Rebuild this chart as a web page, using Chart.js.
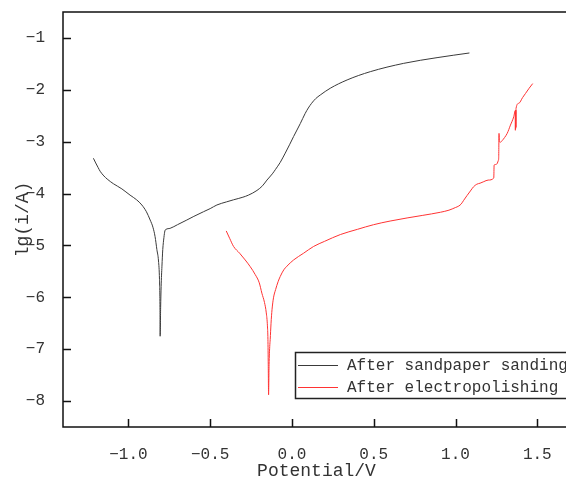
<!DOCTYPE html>
<html>
<head>
<meta charset="utf-8">
<script src="https://cdn.jsdelivr.net/npm/chart.js@4/dist/chart.umd.min.js"></script>
<style>
	html, body { margin: 0; padding: 0; background: #fff; overflow: hidden; }
	canvas { display: block; }
</style>
</head>
<body>
<canvas id="tafel-chart" width="572" height="482"></canvas>
<script>
// polarization curves
const sandLabel = 'After sandpaper sanding'
const sandX = [-1.214, -1.2, -1.185, -1.173, -1.15, -1.13, -1.092, -1.04, -0.99, -0.95, -0.918, -0.89, -0.867, -0.85, -0.837, -0.826, -0.816, -0.81, -0.807, -0.806,
	-0.803, -0.8, -0.795, -0.79, -0.783, -0.777, -0.77, -0.745, -0.7, -0.643, -0.6, -0.541, -0.5, -0.459, -0.4, -0.357, -0.3, -0.266, -0.214, -0.18,
	-0.153, -0.12, -0.102, -0.072, -0.041, -0.015, 0.01, 0.051, 0.08, 0.1, 0.12, 0.145, 0.173, 0.234, 0.337, 0.479, 0.683, 0.887, 1.085]
const sandY = [-3.32, -3.41, -3.5, -3.57, -3.66, -3.72, -3.81, -3.91, -4.03, -4.12, -4.22, -4.35, -4.51, -4.65, -4.83, -5.08, -5.3, -5.66, -6.2, -6.75,
	-6.2, -5.79, -5.4, -5.08, -4.85, -4.72, -4.69, -4.67, -4.6, -4.51, -4.44, -4.35, -4.29, -4.22, -4.16, -4.12, -4.07, -4.03, -3.94, -3.85,
	-3.74, -3.62, -3.54, -3.4, -3.22, -3.06, -2.9, -2.65, -2.46, -2.35, -2.26, -2.17, -2.1, -1.97, -1.81, -1.65, -1.49, -1.38, -1.29]

const elecLabel = 'After electropolishing'
const elecX = [-0.402, -0.38, -0.357, -0.32, -0.286, -0.255, -0.225, -0.2, -0.184, -0.168, -0.157, -0.15, -0.147, -0.145, -0.143,
	-0.14, -0.136, -0.133, -0.128, -0.122, -0.113, -0.1, -0.085, -0.072, -0.05, -0.031, 0.01, 0.071, 0.132, 0.2, 0.296, 0.4, 0.499,
	0.6, 0.704, 0.8, 0.908, 0.96, 0.999, 1.02, 1.035, 1.05, 1.07, 1.091, 1.11, 1.13, 1.15, 1.173, 1.2, 1.234, 1.236, 1.245, 1.255, 1.262, 1.264,
	1.266, 1.268, 1.275, 1.285, 1.3, 1.316, 1.336, 1.356, 1.3655, 1.366, 1.3665, 1.367, 1.3675, 1.368, 1.3685, 1.369, 1.37, 1.387, 1.41, 1.428, 1.45, 1.472]
const elecY = [-4.72, -4.87, -5.02, -5.15, -5.28, -5.41, -5.56, -5.72, -5.92, -6.1, -6.3, -6.55, -6.81, -7.3, -7.88,
	-7.3, -6.95, -6.81, -6.5, -6.24, -6.01, -5.85, -5.7, -5.6, -5.47, -5.4, -5.28, -5.15, -5.02, -4.92, -4.79, -4.69, -4.6,
	-4.53, -4.47, -4.42, -4.36, -4.32, -4.27, -4.24, -4.2, -4.13, -4.04, -3.95, -3.87, -3.82, -3.8, -3.77, -3.74, -3.7, -3.45, -3.44, -3.42, -3.36, -3.32,
	-2.84, -3.0, -3.01, -2.98, -2.92, -2.84, -2.68, -2.52, -2.4, -2.78, -2.41, -2.76, -2.4, -2.74, -2.39, -2.72, -2.36, -2.26, -2.15, -2.07, -1.97, -1.88]

const xTicks = [-1.0, -0.5, 0.0, 0.5, 1.0, 1.5]
const yTicks = [-8, -7, -6, -5, -4, -3, -2, -1]

const sandColor = '#3a3a3a'
const elecColor = '#ff3333'
const monoFont = "'Liberation Mono', 'DejaVu Sans Mono', monospace"

toPoints = (xs, ys) => xs.map((x, i) => ({ x: x, y: ys[i] }))
minus = (s) => s.replace('-', '\u2212')

// frame, inward ticks and the boxed legend
const framePlugin = {
	id: 'frame',
	afterDraw: (chart) => {
		const ctx = chart.ctx
		const a = chart.chartArea
		const xs = chart.scales.x
		const ys = chart.scales.y
		ctx.save()
		ctx.strokeStyle = '#111'
		ctx.lineWidth = 1.5
		ctx.strokeRect(a.left, a.top, a.right - a.left, a.bottom - a.top)
		ctx.beginPath()
		xs.ticks.forEach((t) => {
			const px = Math.round(xs.getPixelForValue(t.value)) + 0.5
			ctx.moveTo(px, a.bottom)
			ctx.lineTo(px, a.bottom - 8)
		})
		ys.ticks.forEach((t) => {
			const py = Math.round(ys.getPixelForValue(t.value)) + 0.5
			ctx.moveTo(a.left, py)
			ctx.lineTo(a.left + 8, py)
		})
		ctx.stroke()

		// legend box
		const bx = 295.5, by = 352.5
		ctx.fillStyle = '#fff'
		ctx.fillRect(bx, by, 300, 46)
		ctx.strokeStyle = '#222'
		ctx.lineWidth = 1.5
		ctx.strokeRect(bx, by, 300, 46)
		const rows = [
			{ label: chart.data.datasets[0].label, color: sandColor, y: 365.5 },
			{ label: chart.data.datasets[1].label, color: elecColor, y: 387.5 }
		]
		ctx.font = '16px ' + monoFont
		ctx.textBaseline = 'middle'
		ctx.textAlign = 'left'
		rows.forEach((r) => {
			ctx.strokeStyle = r.color
			ctx.lineWidth = 1
			ctx.beginPath()
			ctx.moveTo(298, r.y)
			ctx.lineTo(338, r.y)
			ctx.stroke()
			ctx.fillStyle = '#333'
			ctx.fillText(r.label, 347, r.y)
		})
		ctx.restore()
	}
}

const config = {
	type: 'scatter',
	data: {
		datasets: [
			{ label: sandLabel, data: toPoints(sandX, sandY), showLine: true, borderColor: sandColor, borderWidth: 1, pointRadius: 0, cubicInterpolationMode: 'monotone' },
			{ label: elecLabel, data: toPoints(elecX, elecY), showLine: true, borderColor: elecColor, borderWidth: 1, pointRadius: 0, cubicInterpolationMode: 'monotone' }
		]
	},
	options: {
		responsive: false,
		animation: false,
		devicePixelRatio: 1,
		layout: { padding: { left: 0, top: 12, right: 2, bottom: 0 } },
		plugins: {
			legend: { display: false },
			tooltip: { enabled: false }
		},
		scales: {
			x: {
				type: 'linear',
				min: -1.4,
				max: 1.7,
				grid: { display: false },
				border: { display: false },
				afterBuildTicks: (s) => { s.ticks = xTicks.map((v) => ({ value: v })) },
				afterFit: (s) => { s.height = 55; s.paddingLeft = 0; s.paddingRight = 0 },
				ticks: {
					padding: 10,
					color: '#333',
					font: { family: monoFont, size: 16 },
					maxRotation: 0,
					callback: (v) => minus(Number(v).toFixed(1))
				},
				title: {
					display: true,
					text: 'Potential/V',
					color: '#333',
					font: { family: monoFont, size: 18 },
					padding: { top: 0, bottom: 0 }
				}
			},
			y: {
				type: 'linear',
				min: -8.5,
				max: -0.5,
				grid: { display: false },
				border: { display: false },
				afterBuildTicks: (s) => { s.ticks = yTicks.map((v) => ({ value: v })) },
				afterFit: (s) => { s.width = 63; s.paddingTop = 0; s.paddingBottom = 0 },
				ticks: {
					padding: 10,
					color: '#333',
					font: { family: monoFont, size: 16 },
					callback: (v) => minus(String(v))
				},
				title: {
					display: true,
					text: 'lg(i/A)',
					color: '#333',
					font: { family: monoFont, size: 18 },
					padding: { top: 12, bottom: 0 }
				}
			}
		}
	},
	plugins: [framePlugin]
}
const ctx = document.querySelector('#tafel-chart').getContext('2d')
const tafelChart = new Chart(ctx, config)
</script>
</body>
</html>
